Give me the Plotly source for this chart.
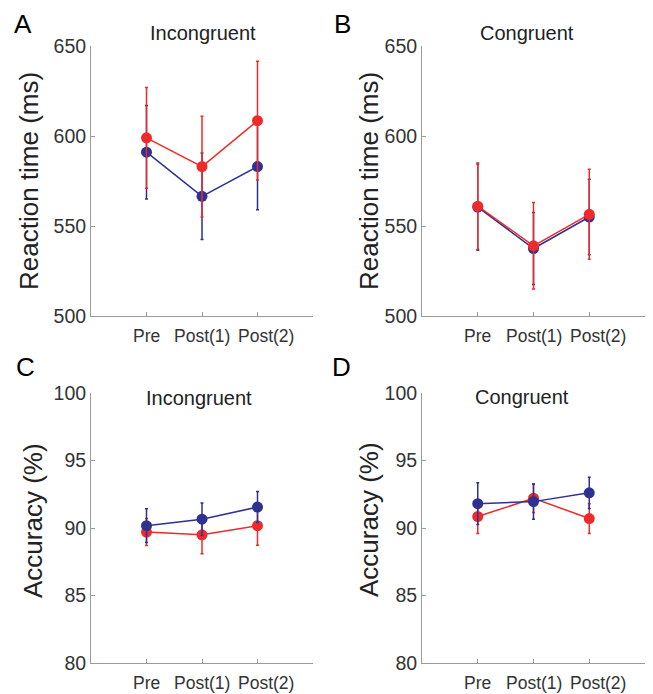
import plotly.graph_objects as go

# The page body has an 8px margin, so the figure is sized to fill the 653x694 window from (8, 8)
PAGE_W, PAGE_H = 653, 694
OFF = 8
W, H = PAGE_W - OFF, PAGE_H - OFF

conditions = ["Pre", "Post(1)", "Post(2)"]
x_pos = [1, 2, 3]
label_shift = [0.0, 0.0, 0.16]  # Post(2) label sits a little right of its tick in the original

# Panel A: Incongruent reaction time (ms)
rt_incong_red = [599, 583, 608.5]
rt_incong_red_err = [28, 28, 33]
rt_incong_blue = [591, 566.5, 583]
rt_incong_blue_err = [26, 24, 24]

# Panel B: Congruent reaction time (ms)
rt_cong_red = [561, 539, 556.5]
rt_cong_red_err = [24, 24, 25]
rt_cong_blue = [560.5, 537.5, 555]
rt_cong_blue_err = [24, 20, 21]

# Panel C: Incongruent accuracy (%)
acc_incong_red = [89.7, 89.5, 90.17]
acc_incong_red_err = [1.0, 1.4, 1.45]
acc_incong_blue = [90.17, 90.65, 91.55]
acc_incong_blue_err = [1.25, 1.2, 1.15]

# Panel D: Congruent accuracy (%)
acc_cong_red = [90.85, 92.2, 90.7]
acc_cong_red_err = [1.25, 1.05, 1.1]
acc_cong_blue = [91.8, 91.95, 92.6]
acc_cong_blue_err = [1.55, 1.3, 1.15]

RED = "#EE2B2A"
BLUE = "#2E3192"
AXIS = "#9A9A9A"
FONT = "Liberation Sans, Arial, Helvetica, sans-serif"

def px_x(p):
    return (p - OFF) / W

def px_y(p):
    return 1 - (p - OFF) / H

fig = go.Figure()

panels = [
    ("x", "y", rt_incong_red, rt_incong_red_err, rt_incong_blue, rt_incong_blue_err, True),
    ("x2", "y2", rt_cong_red, rt_cong_red_err, rt_cong_blue, rt_cong_blue_err, True),
    ("x3", "y3", acc_incong_red, acc_incong_red_err, acc_incong_blue, acc_incong_blue_err, False),
    ("x4", "y4", acc_cong_red, acc_cong_red_err, acc_cong_blue, acc_cong_blue_err, False),
]

def add_series(xa, ya, vals, errs, color):
    fig.add_trace(go.Scatter(
        x=x_pos, y=vals, xaxis=xa, yaxis=ya, mode="lines+markers",
        line=dict(color=color, width=1.5),
        marker=dict(color=color, size=11),
        error_y=dict(type="data", array=errs, visible=True, color=color,
                     thickness=1.5, width=1.5),
        showlegend=False, hoverinfo="skip",
    ))

for xa, ya, r, re, b, be, red_top in panels:
    if red_top:
        add_series(xa, ya, b, be, BLUE)
        add_series(xa, ya, r, re, RED)
    else:
        add_series(xa, ya, r, re, RED)
        add_series(xa, ya, b, be, BLUE)

TOP_Y0, TOP_Y1 = 46, 316
BOT_Y0, BOT_Y1 = 392.7, 663.3
left_dom = [px_x(91), px_x(313)]
right_dom = [px_x(422), px_x(645)]
top_dom = [px_y(TOP_Y1), px_y(TOP_Y0)]
bot_dom = [px_y(BOT_Y1), px_y(BOT_Y0)]

xcommon = dict(range=[0, 4], tickvals=[1, 2, 3, 4], showticklabels=False,
               showline=True, linecolor=AXIS, linewidth=1, ticks="inside",
               ticklen=4, tickcolor=AXIS, showgrid=False, zeroline=False,
               fixedrange=True)
ycommon = dict(showline=True, linecolor=AXIS, linewidth=1, ticks="inside",
               ticklen=4, tickcolor=AXIS, showgrid=False, zeroline=False,
               tickfont=dict(family=FONT, size=19.5, color="#333333"), fixedrange=True)

fig.update_layout(
    width=W, height=H,
    margin=dict(l=0, r=0, t=0, b=0, autoexpand=False),
    paper_bgcolor="white", plot_bgcolor="white",
    xaxis=dict(domain=left_dom, anchor="y", **xcommon),
    xaxis2=dict(domain=right_dom, anchor="y2", **xcommon),
    xaxis3=dict(domain=left_dom, anchor="y3", **xcommon),
    xaxis4=dict(domain=right_dom, anchor="y4", **xcommon),
    yaxis=dict(domain=top_dom, anchor="x", range=[500, 650], tickvals=[500, 550, 600, 650], **ycommon),
    yaxis2=dict(domain=top_dom, anchor="x2", range=[500, 650], tickvals=[500, 550, 600, 650], **ycommon),
    yaxis3=dict(domain=bot_dom, anchor="x3", range=[80, 100], tickvals=[80, 85, 90, 95, 100], **ycommon),
    yaxis4=dict(domain=bot_dom, anchor="x4", range=[80, 100], tickvals=[80, 85, 90, 95, 100], **ycommon),
)

annotations = []
def ann(text, x, y, size, angle=0, color="#222222"):
    annotations.append(dict(text=text, x=px_x(x), y=px_y(y), xref="paper", yref="paper",
                            xanchor="center", yanchor="middle", showarrow=False,
                            textangle=angle, font=dict(family=FONT, size=size, color=color)))

# x tick labels (category names) under each panel
for xa, axis_y in [("x", TOP_Y1), ("x2", TOP_Y1), ("x3", BOT_Y1), ("x4", BOT_Y1)]:
    for c, xp, s in zip(conditions, x_pos, label_shift):
        annotations.append(dict(text=c, x=xp + s, y=px_y(axis_y + 19.5), xref=xa, yref="paper",
                                xanchor="center", yanchor="middle", showarrow=False,
                                font=dict(family=FONT, size=17.5, color="#333333")))

# panel letters
ann("A", 23, 24, 26, color="black")
ann("B", 342, 24, 26, color="black")
ann("C", 25, 367, 26, color="black")
ann("D", 341, 367, 26, color="black")
# titles
ann("Incongruent", 203, 33, 20)
ann("Congruent", 527, 33, 20)
ann("Incongruent", 199, 398, 20)
ann("Congruent", 522, 397, 20)
# y-axis titles
ann("Reaction time (ms)", 29, 181, 26, angle=-90)
ann("Reaction time (ms)", 369, 181, 26, angle=-90)
ann("Accuracy (%)", 33, 521, 26, angle=-90)
ann("Accuracy (%)", 369, 519, 26, angle=-90)

fig.update_layout(annotations=annotations)

fig.write_html("out.html")
